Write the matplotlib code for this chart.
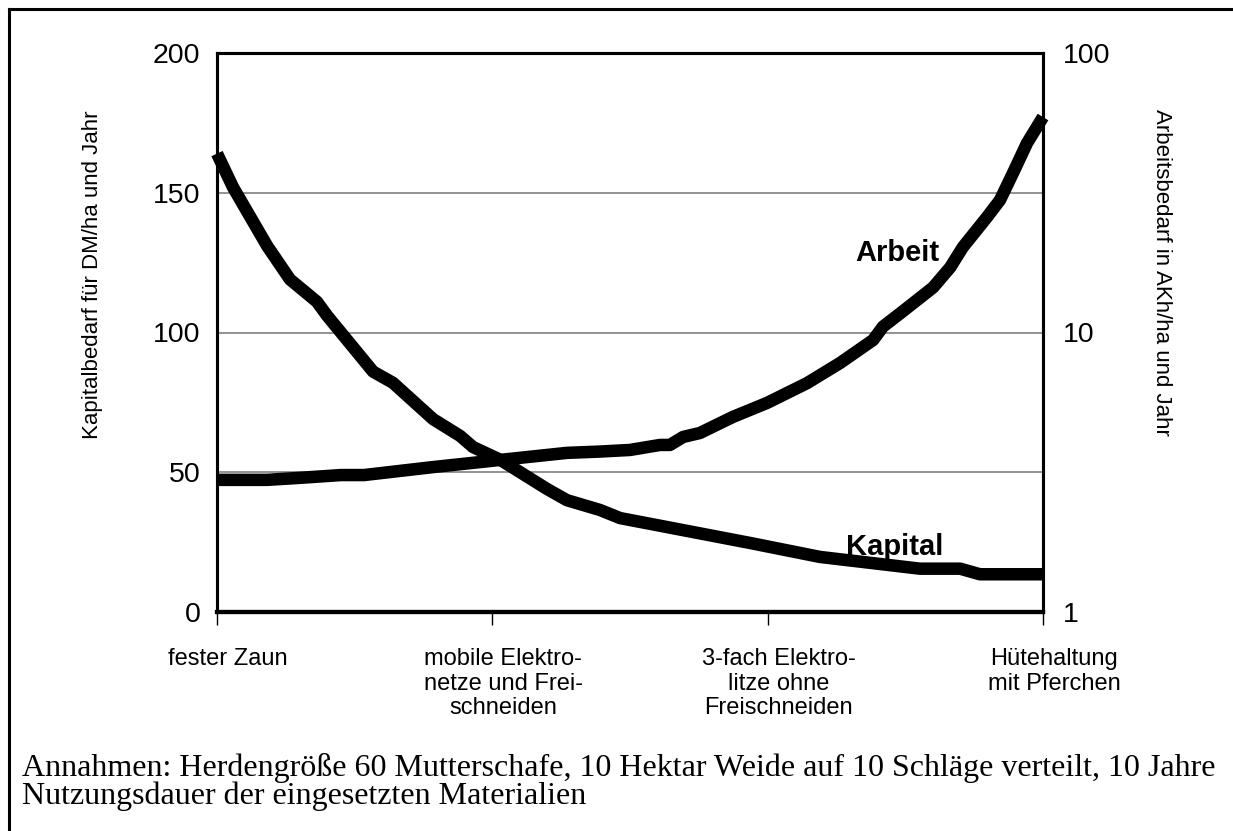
import numpy as np
import matplotlib
matplotlib.use('Agg')
import matplotlib.pyplot as plt
from matplotlib.lines import Line2D
from matplotlib.transforms import ScaledTranslation

plt.rcParams['font.family'] = ['Liberation Sans', 'DejaVu Sans']

# categories on the x axis
categories = ['fester Zaun', 'mobile Elektro-\nnetze und Frei-\nschneiden',
              '3-fach Elektro-\nlitze ohne\nFreischneiden', 'Hütehaltung\nmit Pferchen']

# Kapitalbedarf (left axis, DM/ha und Jahr), x in category units
kap_x = [0.0, 0.058, 0.182, 0.265, 0.363, 0.40, 0.567, 0.639, 0.785, 0.883, 0.93,
         1.028, 1.199, 1.271, 1.391, 1.464, 1.634, 1.936, 2.19, 2.553, 2.699, 2.771, 3.0]
kap_y = [164, 152, 131, 119, 111, 106, 86, 82, 69, 63, 59,
         54.5, 44, 40, 36.5, 33.6, 30.4, 24.7, 19.7, 15.5, 15.5, 13.5, 13.5]

# Arbeitsbedarf (right axis, log, AKh/ha und Jahr)
arb_x = [0.0, 0.182, 0.301, 0.45, 0.534, 0.785, 1.028, 1.271, 1.391, 1.5, 1.609, 1.645,
         1.693, 1.754, 1.874, 1.998, 2.143, 2.263, 2.383, 2.419, 2.481, 2.601,
         2.663, 2.709, 2.797, 2.844, 2.891, 2.942, 3.0]
arb_y = [2.97, 2.97, 3.02, 3.09, 3.09, 3.30, 3.50, 3.71, 3.75, 3.80, 3.96, 3.96,
         4.23, 4.37, 4.99, 5.60, 6.59, 7.78, 9.4, 10.5, 11.7, 14.5,
         17.1, 20.2, 25.9, 29.8, 37.2, 47.6, 59.0]

caption = ['Annahmen: Herdengröße 60 Mutterschafe, 10 Hektar Weide auf 10 Schläge verteilt, 10 Jahre',
           'Nutzungsdauer der eingesetzten Materialien']

W, H = 1233, 831
fig = plt.figure(figsize=(W / 100, H / 100), dpi=100)

# page frame (top and left edge only visible)
fig.add_artist(Line2D([9 / W, 1], [1 - 9 / H, 1 - 9 / H], color='black', lw=2.2))
fig.add_artist(Line2D([9 / W, 9 / W], [0, 1 - 9 / H], color='black', lw=2.2))

ax = fig.add_axes([217 / W, 1 - 612 / H, 826 / W, 559 / H])
ax2 = ax.twinx()

ax.set_xlim(0, 3)
ax.set_ylim(0, 200)
ax.set_yticks([0, 50, 100, 150, 200])
ax.yaxis.grid(True, color='#808080', lw=1.2)
ax.set_axisbelow(True)
ax.set_xticks([0, 1, 2, 3])
ax.set_xticklabels(categories, fontsize=17, linespacing=1.15)
ax.tick_params(axis='x', direction='out', length=9, width=1, pad=17)
ax.tick_params(axis='y', length=0, pad=12, labelsize=20.5)
shift = ScaledTranslation(11 / 100, 0, fig.dpi_scale_trans)
for lab in ax.get_xticklabels():
    lab.set_transform(lab.get_transform() + shift)

ax2.set_yscale('log')
ax2.set_ylim(1, 100)
ax2.set_yticks([1, 10, 100])
ax2.set_yticklabels(['1', '10', '100'])
ax2.minorticks_off()
ax2.tick_params(axis='y', length=0, pad=14, labelsize=20.5)

for a in (ax, ax2):
    for s in a.spines.values():
        s.set_linewidth(2.2)
    a.spines['bottom'].set_linewidth(3)

ax.plot(kap_x, kap_y, color='black', lw=9, solid_capstyle='butt', solid_joinstyle='round', clip_on=False)
ax2.plot(arb_x, arb_y, color='black', lw=9, solid_capstyle='butt', solid_joinstyle='round', clip_on=False)

ax.text(2.47, 128.4, 'Arbeit', fontsize=21, fontweight='bold', ha='center', va='center')
ax.text(2.462, 23.3, 'Kapital', fontsize=21, fontweight='bold', ha='center', va='center')

fig.text(93 / W, 1 - 275 / H, 'Kapitalbedarf für DM/ha und Jahr', rotation=90,
         fontsize=16, ha='center', va='center')
fig.text(1161 / W, 1 - 272 / H, 'Arbeitsbedarf in AKh/ha und Jahr', rotation=-90,
         fontsize=16, ha='center', va='center')

for i, line in enumerate(caption):
    fig.text(22 / W, 1 - (776 + 28 * i) / H, line, family='Liberation Serif',
             fontsize=23, ha='left', va='baseline')

fig.savefig('out.png', dpi=100)
